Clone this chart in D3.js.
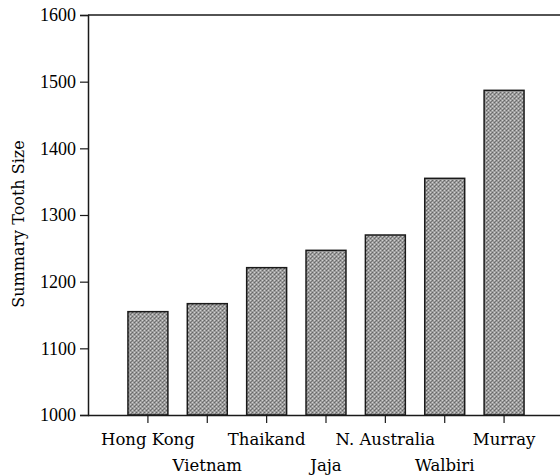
<!DOCTYPE html>
<html>
<head>
<meta charset="utf-8">
<script src="https://cdn.jsdelivr.net/npm/d3@7"></script>
<style>
  html, body { margin: 0; padding: 0; background: #fff; }
  svg { display: block; }
</style>
</head>
<body>
<svg id="chart" width="560" height="476"></svg>
<script>
const categories = ["Hong Kong", "Vietnam", "Thaikand", "Jaja", "N. Australia", "Walbiri", "Murray"];
const values = [1155, 1167, 1221, 1247, 1270, 1355, 1487];
const labelRows = [0, 1, 0, 1, 0, 1, 0];
const yTicks = [1000, 1100, 1200, 1300, 1400, 1500, 1600];
const yTitle = "Summary Tooth Size";

const svg = d3.select("#chart");
const mLeft = 88, mRight = 564, mTop = 15, mBottom = 415;

const x = d3.scaleBand().domain(categories).range([mLeft, mRight])
  .paddingInner(0.327).paddingOuter(0.673);
const y = d3.scaleLinear().domain([1000, 1600]).range([mBottom, mTop]);

// stippled texture pattern for bars
const defs = svg.append("defs");
const pat = defs.append("pattern").attr("id", "stip")
  .attr("width", 4).attr("height", 4).attr("patternUnits", "userSpaceOnUse");
pat.append("rect").attr("width", 4).attr("height", 4).attr("fill", "#9c9c9c");
pat.append("rect").attr("x", 0).attr("y", 0).attr("width", 1).attr("height", 1).attr("fill", "#666");
pat.append("rect").attr("x", 2).attr("y", 2).attr("width", 1).attr("height", 1).attr("fill", "#666");
pat.append("rect").attr("x", 3).attr("y", 1).attr("width", 1).attr("height", 1).attr("fill", "#777");
pat.append("rect").attr("x", 2).attr("y", 0).attr("width", 1).attr("height", 1).attr("fill", "#d0d0d0");
pat.append("rect").attr("x", 0).attr("y", 2).attr("width", 1).attr("height", 1).attr("fill", "#d0d0d0");

// bars
svg.append("g").selectAll("rect").data(categories).join("rect")
  .attr("x", d => x(d))
  .attr("y", (d, i) => y(values[i]))
  .attr("width", x.bandwidth())
  .attr("height", (d, i) => y(1000) - y(values[i]))
  .attr("fill", "url(#stip)")
  .attr("stroke", "#1a1a1a")
  .attr("stroke-width", 1.5);

// top frame line
svg.append("line").attr("x1", mLeft).attr("x2", 560).attr("y1", y(1600)).attr("y2", y(1600))
  .attr("stroke", "#1a1a1a").attr("stroke-width", 1.5);

// y axis
const yAxis = svg.append("g").attr("transform", `translate(${mLeft},0)`)
  .call(d3.axisLeft(y).tickValues(yTicks).tickFormat(d3.format("d")).tickSize(8).tickPadding(4));
yAxis.select(".domain").attr("stroke", "#1a1a1a").attr("stroke-width", 1.5);
yAxis.selectAll(".tick line").attr("stroke", "#1a1a1a").attr("stroke-width", 1.2);
yAxis.selectAll(".tick text")
  .attr("font-family", "'Liberation Serif', serif")
  .attr("font-size", 18).attr("fill", "#000");

// x axis
const xAxis = svg.append("g").attr("transform", `translate(0,${mBottom})`)
  .call(d3.axisBottom(x).tickSize(8).tickSizeOuter(0));
xAxis.select(".domain").attr("d", `M${mLeft},0.5H560`).attr("stroke", "#1a1a1a").attr("stroke-width", 1.5);
xAxis.selectAll(".tick line").attr("stroke", "#1a1a1a").attr("stroke-width", 1.2);
xAxis.selectAll(".tick text")
  .attr("font-family", "'DejaVu Serif', serif")
  .attr("font-size", 16.5).attr("fill", "#000")
  .attr("dy", null)
  .attr("y", (d, i) => labelRows[i] === 0 ? 30 : 56);

// y title
svg.append("text")
  .attr("transform", `translate(24,224) rotate(-90)`)
  .attr("text-anchor", "middle")
  .attr("font-family", "'DejaVu Serif', serif")
  .attr("font-size", 16).attr("fill", "#000")
  .text(yTitle);
</script>
</body>
</html>
